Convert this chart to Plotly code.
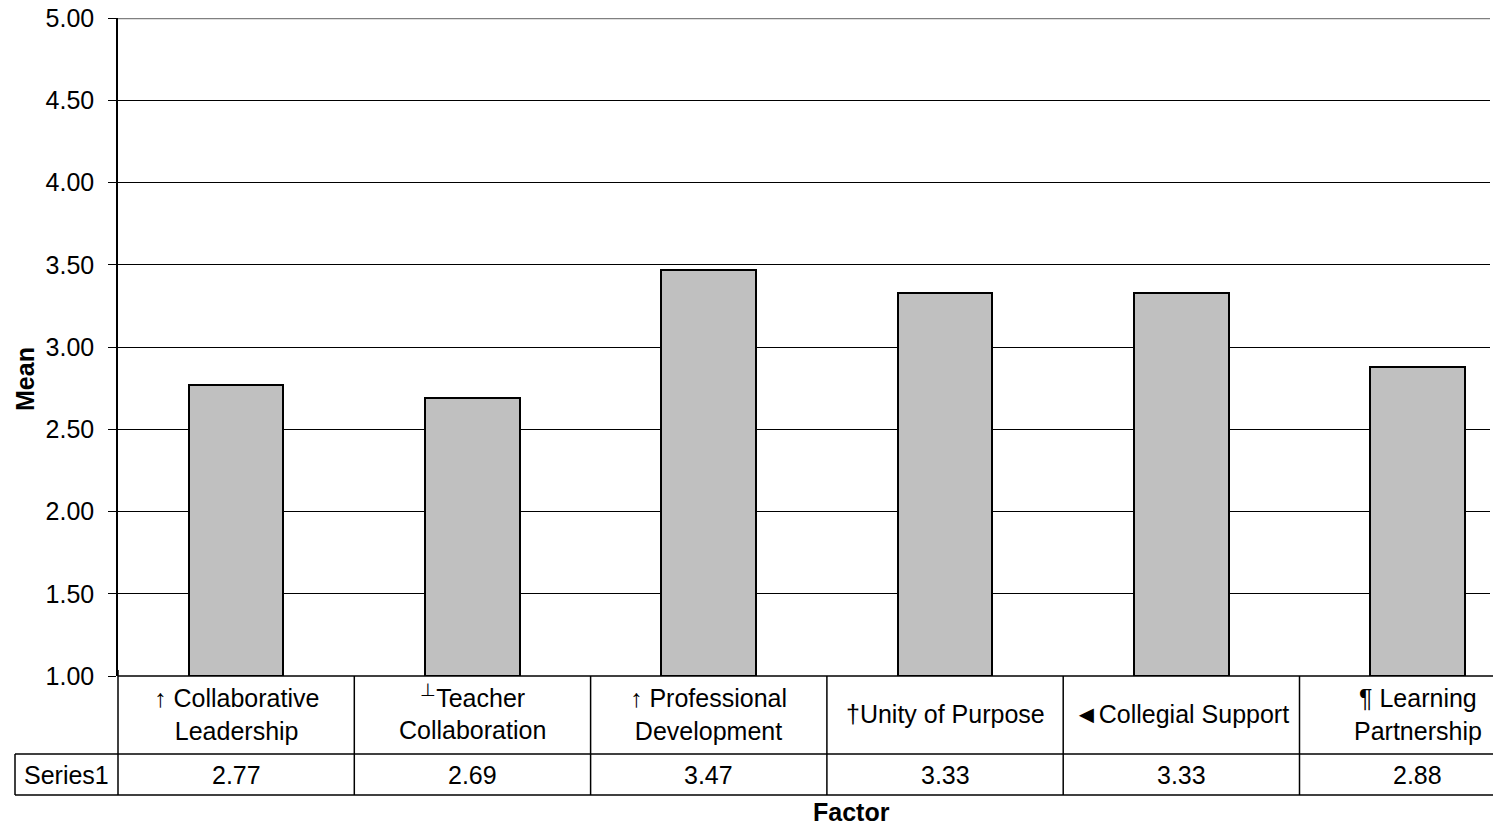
import plotly.graph_objects as go

# Factor means (scale 1-5)
factors = [
    "↑ Collaborative<br>Leadership",
    "<sup>⊥</sup>Teacher<br>Collaboration",
    "↑ Professional<br>Development",
    "†Unity of Purpose",
    "◄Collegial Support",
    "¶ Learning<br>Partnership",
]
means = [2.77, 2.69, 3.47, 3.33, 3.33, 2.88]
series_name = "Series1"
y_ticks = [1.0, 1.5, 2.0, 2.5, 3.0, 3.5, 4.0, 4.5, 5.0]

W, H = 1493, 825
ML, MR, MT, MB = 118, 3, 18, 149
plot_w = W - ML - MR
plot_h = H - MT - MB
FONT = "Liberation Sans, Arial, sans-serif"
FS = 25


def py(pix):
    """Convert a pixel row of the page into paper y."""
    return (H - MB - pix) / plot_h


def px(pix):
    """Convert a pixel column of the page into paper x."""
    return (pix - ML) / plot_w


n = len(factors)
xs = list(range(n))
# category width in data units is 1; the right part of the chart is cut by the page edge
col_px = 236.3
x_hi = -0.5 + plot_w / col_px

fig = go.Figure()
fig.add_trace(go.Bar(
    x=xs, y=[m - 1.0 for m in means], base=1.0, width=0.4,
    marker=dict(color="#C0C0C0", line=dict(color="#000000", width=2)),
    hoverinfo="skip", showlegend=False,
))

shapes = []
# top border of the plot area
shapes.append(dict(type="line", xref="paper", yref="y", x0=0, x1=px(1490), y0=5, y1=5,
                   line=dict(color="#808080", width=2.5), layer="above"))
# data table: horizontal rules
for row_y in (676, 754, 795):
    x_start = px(118) if row_y == 676 else px(15)
    shapes.append(dict(type="line", xref="paper", yref="paper",
                       x0=x_start, x1=1.01, y0=py(row_y), y1=py(row_y),
                       line=dict(color="#000000", width=1.5)))
# data table: column separators
for b in [i + 0.5 for i in range(n - 1)]:
    shapes.append(dict(type="line", xref="x", yref="paper", x0=b, x1=b,
                       y0=py(676), y1=py(795), line=dict(color="#000000", width=1.5)))
shapes.append(dict(type="line", xref="paper", yref="paper", x0=0, x1=0,
                   y0=py(670), y1=py(795), line=dict(color="#000000", width=1.5)))
shapes.append(dict(type="line", xref="paper", yref="paper", x0=px(15), x1=px(15),
                   y0=py(754), y1=py(795), line=dict(color="#000000", width=1.5)))

annotations = []
for i, (lab, v) in enumerate(zip(factors, means)):
    # the superscript mark pushes its label down a little; lift it back
    lab_y = 712 if "<sup>" in lab else 714
    annotations.append(dict(x=i, xref="x", y=py(lab_y), yref="paper", text=lab,
                            showarrow=False, xanchor="center", yanchor="middle",
                            font=dict(family=FONT, size=FS, color="#000")))
    annotations.append(dict(x=i, xref="x", y=py(775), yref="paper", text=f"{v:.2f}",
                            showarrow=False, xanchor="center", yanchor="middle",
                            font=dict(family=FONT, size=FS, color="#000")))
annotations.append(dict(x=px(66), xref="paper", y=py(775), yref="paper", text=series_name,
                        showarrow=False, xanchor="center", yanchor="middle",
                        font=dict(family=FONT, size=FS, color="#000")))
annotations.append(dict(x=px(851), xref="paper", y=py(812), yref="paper", text="<b>Factor</b>",
                        showarrow=False, xanchor="center", yanchor="middle",
                        font=dict(family=FONT, size=FS, color="#000")))
annotations.append(dict(x=px(25), xref="paper", y=py(379), yref="paper", text="<b>Mean</b>",
                        showarrow=False, xanchor="center", yanchor="middle", textangle=-90,
                        font=dict(family=FONT, size=FS, color="#000")))

fig.update_layout(
    width=W, height=H,
    margin=dict(l=ML, r=MR, t=MT, b=MB, pad=0),
    paper_bgcolor="#FFFFFF", plot_bgcolor="#FFFFFF",
    bargap=0,
    shapes=shapes,
    annotations=annotations,
    xaxis=dict(range=[-0.5, x_hi], showticklabels=False, showgrid=False,
               zeroline=False, showline=False, ticks="", fixedrange=True),
    yaxis=dict(range=[1, 5], tickvals=y_ticks, ticktext=[f"{t:.2f}" for t in y_ticks],
               showgrid=True, gridcolor="#000000", gridwidth=1, zeroline=False,
               showline=True, linecolor="#000000", linewidth=1.5,
               ticks="outside", ticklen=8, tickcolor="#000000", tickwidth=1,
               ticklabelstandoff=9,
               tickfont=dict(family=FONT, size=FS, color="#000"), fixedrange=True),
    font=dict(family=FONT, size=FS, color="#000"),
)

fig.write_html("out.html", config={"displayModeBar": False})
